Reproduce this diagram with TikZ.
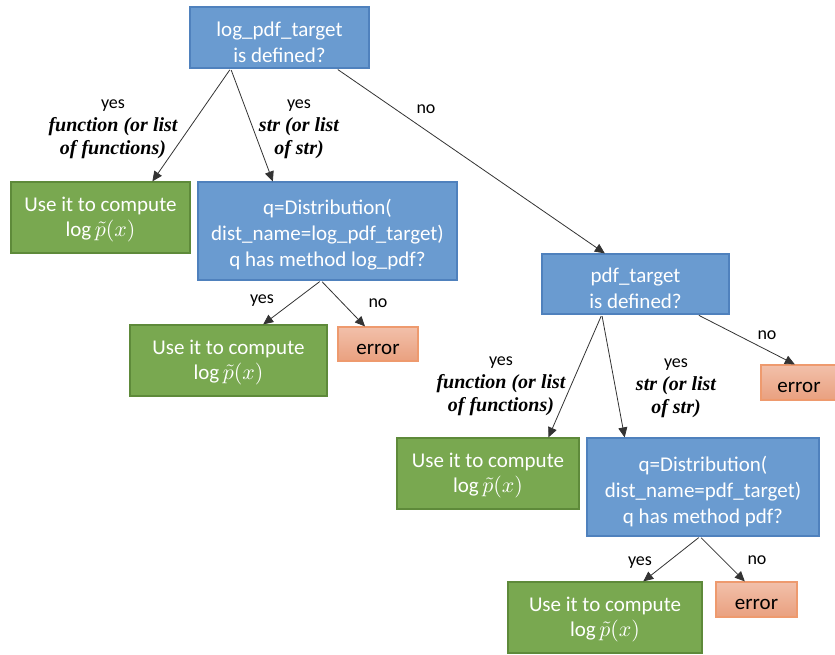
\documentclass[tikz,border=0pt]{standalone}
\usepackage{fontspec}
\setmainfont{Carlito}
\newfontfamily\lblfont{Liberation Serif}
\usetikzlibrary{arrows.meta,calc}
\definecolor{bfill}{HTML}{6A9BD0}
\definecolor{bdraw}{HTML}{4F81BD}
\definecolor{gfill}{HTML}{79A850}
\definecolor{gdraw}{HTML}{5E8A3A}
\definecolor{etop}{HTML}{F2C0AA}
\definecolor{ebot}{HTML}{E9A07F}
\definecolor{edraw}{HTML}{EE9A6E}
\newcommand\yesfont{\fontsize{9}{11.5}\selectfont}
\newcommand\bifont{\lblfont\bfseries\itshape\fontsize{10}{11.5}\selectfont}
\newcommand\tupb{\raisebox{4.5pt}{\vphantom{l}}}
\newcommand\tupg{\raisebox{1.5pt}{\vphantom{l}}}
\newcommand\tupe{\raisebox{3pt}{\vphantom{l}}}
\tikzset{
  box/.style={draw, line width=0.6pt, inner sep=0pt, align=center, text=white,
    font=\fontsize{10.5}{13}\selectfont},
  bluebox/.style={box, fill=bfill, draw=bdraw},
  greenbox/.style={box, fill=gfill, draw=gdraw, font=\fontsize{10.5}{12.5}\selectfont},
  errbox/.style={box, top color=etop, bottom color=ebot, draw=edraw, text=black},
  arr/.style={-{Triangle[length=5pt,width=4.5pt]}, line width=0.4pt, draw=black!80, shorten <=0.8pt},
  lbl/.style={align=center, inner sep=0pt, font=\yesfont},
}
\newcommand\logp{$\log\smash{\tilde{p}}(x)$}
\begin{document}
\begin{tikzpicture}[x=0.5pt,y=-0.5pt]
\useasboundingbox (0,0) rectangle (835,654);
% nodes
\node[bluebox, minimum width=89.5pt, minimum height=30.5pt] (A) at (279.5,37.5) {\tupb log\_pdf\_target\\is defined?};
\node[greenbox, minimum width=89.5pt, minimum height=35.5pt] (B) at (100.5,217.5) {\tupg Use it to compute\\\logp};
\node[bluebox, minimum width=129.5pt, minimum height=49pt] (C) at (327.5,231) {\tupb q=Distribution(\\dist\_name=log\_pdf\_target)\\q has method log\_pdf?};
\node[greenbox, minimum width=98.5pt, minimum height=35.5pt] (D) at (228.5,360.5) {\tupg Use it to compute\\\logp};
\node[errbox, minimum width=40pt, minimum height=17pt] (E) at (378,344) {\tupe error};
\node[bluebox, minimum width=93.5pt, minimum height=30pt] (F) at (635.5,284) {\tupb pdf\_target\\is defined?};
\node[errbox, minimum width=38pt, minimum height=17.5pt] (G) at (799,382.5) {\tupe error};
\node[greenbox, minimum width=91pt, minimum height=35.5pt] (H) at (488,473.5) {\tupg Use it to compute\\\logp};
\node[bluebox, minimum width=116pt, minimum height=49pt] (I) at (703,487) {\tupb q=Distribution(\\dist\_name=pdf\_target)\\q has method pdf?};
\node[greenbox, minimum width=97pt, minimum height=35.5pt] (J) at (605,617.5) {\tupg Use it to compute\\\logp};
\node[errbox, minimum width=40.5pt, minimum height=17.5pt] (K) at (756.5,599.5) {\tupe error};
% connectors
\draw[arr] ($(A.south west)!0.229!(A.south east)$) -- ($(B.north west)!0.788!(B.north east)$);
\draw[arr] ($(A.south west)!0.229!(A.south east)$) -- ($(C.north west)!0.29!(C.north east)$);
\draw[arr] ($(A.south west)!0.816!(A.south east)$) -- ($(F.north west)!0.337!(F.north east)$);
\draw[arr] ($(C.south west)!0.475!(C.south east)$) -- ($(D.north west)!0.675!(D.north east)$);
\draw[arr] ($(C.south west)!0.475!(C.south east)$) -- ($(E.north west)!0.34!(E.north east)$);
\draw[arr] ($(F.south west)!0.321!(F.south east)$) -- ($(H.north west)!0.83!(H.north east)$);
\draw[arr] ($(F.south west)!0.321!(F.south east)$) -- ($(I.north west)!0.164!(I.north east)$);
\draw[arr] ($(F.south west)!0.829!(F.south east)$) -- ($(G.north west)!0.446!(G.north east)$);
\draw[arr] ($(I.south west)!0.487!(I.south east)$) -- ($(J.north west)!0.696!(J.north east)$);
\draw[arr] ($(I.south west)!0.487!(I.south east)$) -- ($(K.north west)!0.358!(K.north east)$);
% labels
\node[lbl] (l1) at (113,129) {yes\\\bifont function (or list\\\bifont of functions)};
\node[lbl] (l2) at (299,129) {yes\\\bifont str (or list\\\bifont of str)};
\node[lbl] (l3) at (426,109) {no};
\node[lbl] (l4) at (262,301) {yes};
\node[lbl] (l5) at (378,303) {no};
\node[lbl] (l6) at (501,386) {yes\\\bifont function (or list\\\bifont of functions)};
\node[lbl] (l7) at (676,388) {yes\\\bifont str (or list\\\bifont of str)};
\node[lbl] (l8) at (767,335) {no};
\node[lbl] (l9) at (640,563) {yes};
\node[lbl] (l10) at (757,560) {no};
\end{tikzpicture}
\end{document}
